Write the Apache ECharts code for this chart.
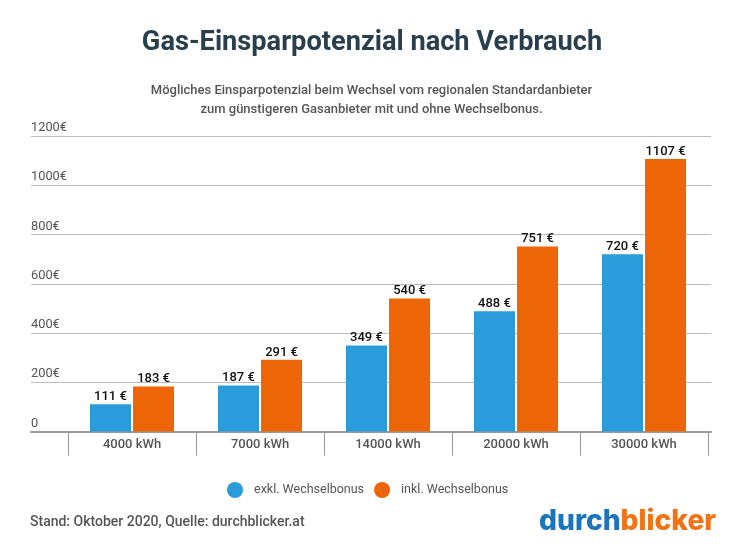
<!DOCTYPE html>
<html><head><meta charset="utf-8">
<style>html,body{margin:0;padding:0;background:#fff}#c{width:750px;height:550px}</style>
<script src="https://cdn.jsdelivr.net/npm/echarts@6/dist/echarts.min.js"></script>
</head><body><div id="c"></div>
<script>
const categories = ['4000 kWh','7000 kWh','14000 kWh','20000 kWh','30000 kWh'];
const exklValues = [111,187,349,488,720];
const inklValues = [183,291,540,751,1107];
const seriesNames = ['exkl. Wechselbonus','inkl. Wechselbonus'];
const chart = echarts.init(document.getElementById('c'),null,{renderer:'canvas'});
const F='Roboto';
const label={show:true,position:'top',distance:1,formatter:p=>p.value+' €',fontFamily:F,fontSize:13,fontWeight:500,color:'#111'};
chart.setOption({
 animation:false,
 backgroundColor:'#fff',
 title:[
  {text:'Gas-Einsparpotenzial nach Verbrauch',left:367,top:25,textAlign:'center',textStyle:{fontFamily:F,fontSize:27.2,fontWeight:'bold',color:'#2a3f4d'}},
  {text:'Mögliches Einsparpotenzial beim Wechsel vom regionalen Standardanbieter\nzum günstigeren Gasanbieter mit und ohne Wechselbonus.',left:366.5,top:76,textAlign:'center',textStyle:{fontFamily:F,fontSize:13,fontWeight:500,color:'#555',lineHeight:19}},
  {text:'Stand: Oktober 2020, Quelle: durchblicker.at',left:25,top:510,textStyle:{fontFamily:F,fontSize:14,fontWeight:500,color:'#555'}},
  {text:'{a|durch}{b|blicker}',left:534,top:503,textStyle:{rich:{a:{fontFamily:'Inter',fontSize:28.2,fontWeight:800,color:'#1b75bc'},b:{fontFamily:'Inter',fontSize:28.2,fontWeight:800,color:'#f47216'}}}}
 ],
 legend:{data:seriesNames,left:222,top:477,icon:'circle',itemWidth:16,itemHeight:16,itemGap:10,textStyle:{fontFamily:F,fontSize:12.5,color:'#555',padding:[0,0,0,6]}},
 grid:[
  {left:31,right:39,top:136,height:295.5},
  {left:68,width:640,top:136,height:295.5}
 ],
 xAxis:[
  {gridIndex:0,type:'value',min:0,max:1,axisLine:{show:true,onZero:false,lineStyle:{color:'#999',width:2}},axisTick:{show:false},axisLabel:{show:false},splitLine:{show:false}},
  {gridIndex:1,type:'category',data:categories,axisLine:{show:false},axisTick:{show:true,length:24,alignWithLabel:false,lineStyle:{color:'#999',width:1}},axisLabel:{margin:6.5,fontFamily:F,fontSize:13,fontWeight:500,color:'#555'},splitLine:{show:false}}
 ],
 yAxis:[
  {gridIndex:0,type:'value',min:0,max:1200,interval:200,axisLine:{show:false},axisTick:{show:false},
   axisLabel:{inside:true,margin:0,verticalAlign:'bottom',padding:[0,0,1.5,0],fontFamily:F,fontSize:12.8,color:'#555',formatter:v=>v===0?'0':v+'€'},
   splitLine:{show:true,lineStyle:{color:'#bbb',width:1}}},
  {gridIndex:1,type:'value',min:0,max:1200,interval:200,show:false,splitLine:{show:false}}
 ],
 series:[
  {name:seriesNames[0],type:'bar',xAxisIndex:1,yAxisIndex:1,data:exklValues,barWidth:41,barGap:'5%',itemStyle:{color:'#2a9bdb'},label},
  {name:seriesNames[1],type:'bar',xAxisIndex:1,yAxisIndex:1,data:inklValues,barWidth:41,barGap:'5%',itemStyle:{color:'#ec6608'},label}
 ]
});
</script></body></html>
